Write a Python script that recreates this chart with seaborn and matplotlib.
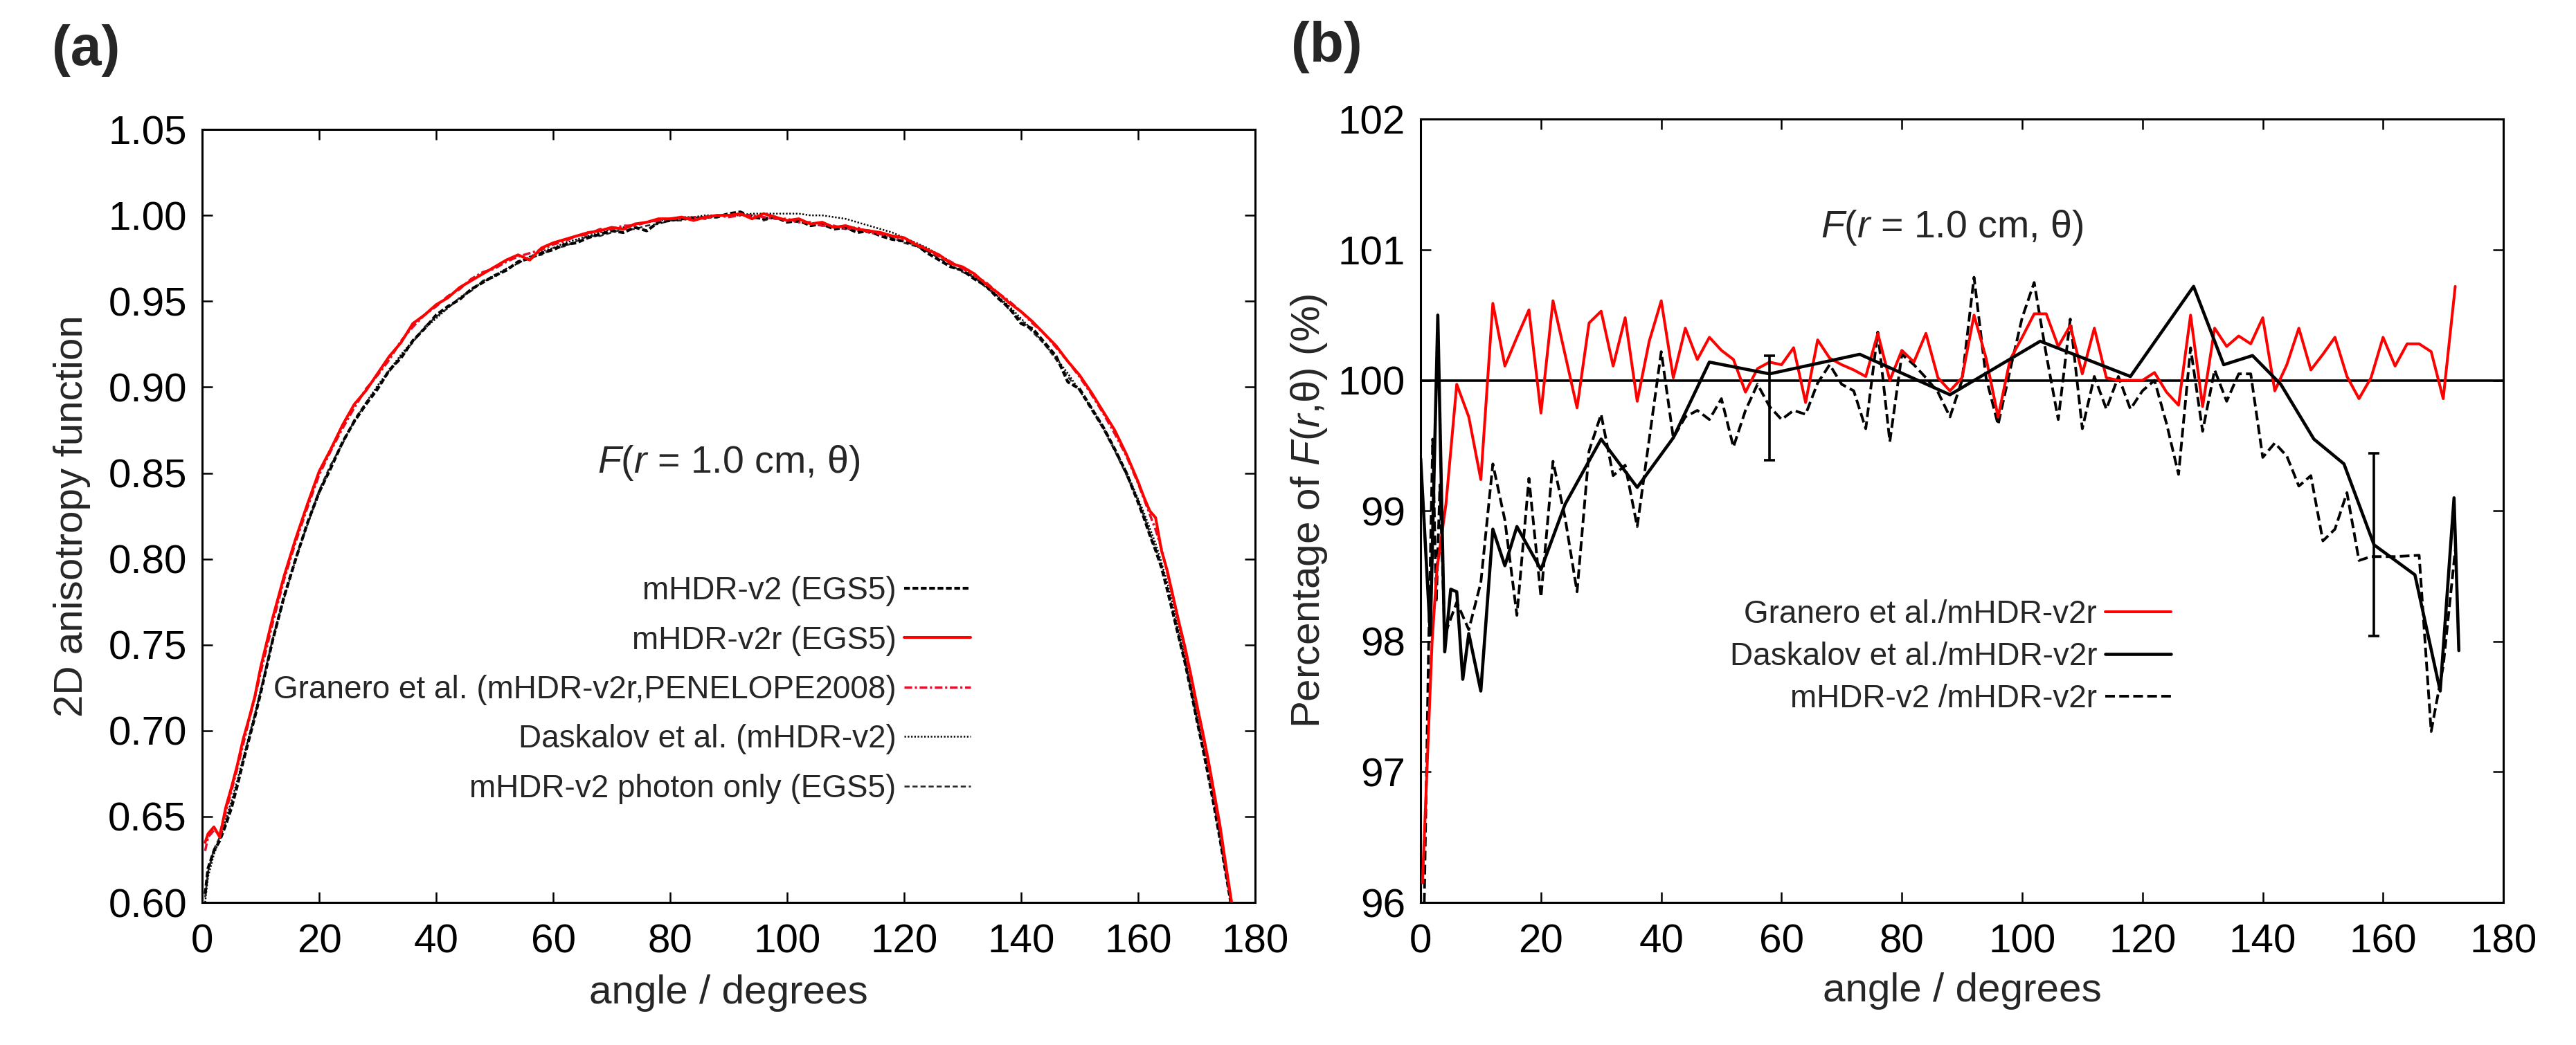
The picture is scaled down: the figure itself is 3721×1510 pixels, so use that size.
import seaborn as sns
import pandas as pd
import matplotlib.pyplot as plt
from matplotlib.ticker import FormatStrFormatter, MultipleLocator

sns.set_theme(style="ticks")
plt.rcParams["font.family"] = ["Liberation Sans", "DejaVu Sans"]
plt.rcParams["mathtext.fontset"] = "custom"
plt.rcParams["mathtext.rm"] = "Liberation Sans"
plt.rcParams["mathtext.it"] = "Liberation Sans:italic"

# ---- panel (a): 2D anisotropy function F(r = 1 cm, theta)
ANGLE_A = [0.5, 1, 2, 3, 4, 5, 6, 7, 8, 9, 10,
           12, 14, 16, 18, 20, 22, 24, 26, 28, 30,
           32, 34, 36, 38, 40, 42, 44, 46, 48, 50,
           52, 54, 56, 58, 60, 62, 64, 66, 68, 70,
           72, 74, 76, 78, 80, 82, 84, 86, 88, 90,
           92, 94, 96, 98, 100, 102, 104, 106, 108, 110,
           112, 114, 116, 118, 120, 122, 124, 126, 128, 130,
           132, 134, 136, 138, 140, 142, 144, 146, 148, 150,
           152, 154, 156, 158, 160,
           161, 162, 163, 164, 165, 166, 167, 168, 169, 170, 171, 172, 173, 174, 175, 176]

F_V2 = [0.605, 0.620, 0.630, 0.636, 0.645, 0.655, 0.668, 0.682, 0.695, 0.708, 0.722,
        0.752, 0.778, 0.800, 0.821, 0.839, 0.853, 0.868, 0.880, 0.890, 0.899,
        0.910, 0.917, 0.927, 0.934, 0.942, 0.947, 0.951, 0.957, 0.961, 0.965,
        0.968, 0.973, 0.975, 0.978, 0.980, 0.983, 0.984, 0.987, 0.989, 0.991,
        0.990, 0.993, 0.991, 0.996, 0.997, 0.998, 0.998, 0.999, 0.999, 1.001,
        1.002, 0.999, 0.998, 0.999, 0.996, 0.997, 0.994, 0.995, 0.992, 0.993,
        0.990, 0.991, 0.988, 0.986, 0.985, 0.983, 0.978, 0.974, 0.970, 0.968,
        0.963, 0.959, 0.952, 0.946, 0.937, 0.934, 0.926, 0.918, 0.903, 0.899,
        0.888, 0.877, 0.864, 0.850, 0.833,
        0.824, 0.814, 0.805, 0.795, 0.782, 0.768, 0.754, 0.740, 0.724, 0.707, 0.691, 0.674, 0.656, 0.637, 0.617, 0.597]

F_V2R = [0.635, 0.640, 0.644, 0.638, 0.655, 0.667, 0.680, 0.695, 0.707, 0.720, 0.737,
         0.765, 0.790, 0.812, 0.832, 0.851, 0.864, 0.878, 0.890, 0.898, 0.908,
         0.918, 0.926, 0.937, 0.942, 0.948, 0.952, 0.958, 0.962, 0.966, 0.970,
         0.974, 0.977, 0.974, 0.981, 0.984, 0.986, 0.988, 0.990, 0.991, 0.993,
         0.992, 0.995, 0.996, 0.998, 0.998, 0.999, 0.997, 0.999, 1.000, 1.000,
         1.001, 0.998, 1.001, 0.999, 0.997, 0.998, 0.995, 0.996, 0.993, 0.994,
         0.992, 0.991, 0.990, 0.988, 0.987, 0.983, 0.980, 0.977, 0.972, 0.970,
         0.966, 0.960, 0.955, 0.949, 0.944, 0.938, 0.931, 0.924, 0.915, 0.907,
         0.897, 0.886, 0.875, 0.861, 0.845,
         0.836, 0.828, 0.824, 0.805, 0.793, 0.778, 0.763, 0.749, 0.733, 0.716, 0.700, 0.683, 0.664, 0.645, 0.622, 0.600]

F_GRANERO = [0.630, 0.638, 0.642, 0.640, 0.652, 0.665, 0.678, 0.692, 0.706, 0.719, 0.734,
             0.762, 0.788, 0.810, 0.830, 0.849, 0.863, 0.876, 0.888, 0.899, 0.907,
             0.916, 0.927, 0.935, 0.942, 0.947, 0.953, 0.957, 0.963, 0.967, 0.969,
             0.973, 0.976, 0.978, 0.980, 0.983, 0.985, 0.988, 0.989, 0.992, 0.992,
             0.994, 0.994, 0.996, 0.997, 0.998, 0.998, 0.999, 0.998, 1.000, 0.999,
             1.000, 1.000, 0.999, 0.998, 0.998, 0.996, 0.996, 0.994, 0.994, 0.992,
             0.993, 0.990, 0.989, 0.988, 0.986, 0.984, 0.980, 0.976, 0.973, 0.969,
             0.965, 0.961, 0.955, 0.950, 0.944, 0.937, 0.931, 0.923, 0.915, 0.906,
             0.896, 0.885, 0.873, 0.860, 0.844,
             0.835, 0.826, 0.817, 0.806, 0.792, 0.777, 0.762, 0.747, 0.731, 0.715, 0.698, 0.681, 0.662, 0.643, 0.621, 0.599]

F_DASKALOV = [0.600, 0.615, 0.628, 0.637, 0.648, 0.659, 0.671, 0.684, 0.697, 0.710, 0.724,
              0.752, 0.777, 0.800, 0.820, 0.838, 0.854, 0.868, 0.880, 0.891, 0.901,
              0.910, 0.919, 0.927, 0.934, 0.940, 0.946, 0.952, 0.957, 0.961, 0.965,
              0.969, 0.972, 0.976, 0.979, 0.981, 0.984, 0.986, 0.988, 0.990, 0.992,
              0.993, 0.995, 0.996, 0.997, 0.998, 0.999, 0.999, 1.000, 1.000, 1.000,
              1.000, 1.001, 1.001, 1.001, 1.001, 1.001, 1.000, 1.000, 0.999, 0.998,
              0.996, 0.994, 0.992, 0.990, 0.987, 0.984, 0.981, 0.977, 0.973, 0.969,
              0.964, 0.959, 0.953, 0.947, 0.940, 0.933, 0.925, 0.917, 0.908, 0.898,
              0.888, 0.877, 0.864, 0.851, 0.835,
              0.827, 0.818, 0.809, 0.798, 0.786, 0.773, 0.759, 0.744, 0.728, 0.711, 0.694, 0.676, 0.658, 0.639, 0.619, 0.598]

F_PHOTON = [0.603, 0.618, 0.631, 0.638, 0.646, 0.657, 0.669, 0.683, 0.696, 0.709, 0.723,
            0.753, 0.779, 0.801, 0.820, 0.840, 0.855, 0.867, 0.881, 0.891, 0.900,
            0.909, 0.918, 0.926, 0.935, 0.941, 0.946, 0.952, 0.956, 0.962, 0.964,
            0.969, 0.972, 0.976, 0.977, 0.981, 0.982, 0.985, 0.988, 0.988, 0.990,
            0.992, 0.992, 0.994, 0.995, 0.997, 0.997, 0.999, 0.998, 1.000, 1.000,
            1.001, 1.000, 0.997, 0.999, 0.997, 0.996, 0.995, 0.994, 0.993, 0.992,
            0.991, 0.990, 0.989, 0.987, 0.984, 0.982, 0.979, 0.975, 0.971, 0.967,
            0.964, 0.958, 0.953, 0.945, 0.939, 0.932, 0.925, 0.916, 0.906, 0.898,
            0.887, 0.876, 0.863, 0.849, 0.834,
            0.825, 0.815, 0.806, 0.796, 0.783, 0.769, 0.755, 0.741, 0.725, 0.708, 0.692, 0.675, 0.657, 0.638, 0.618, 0.597]

# ---- panel (b): ratios in percent
ANGLE_B_GRANERO = [0.3, 1.9, 2.7, 4.2, 6, 8, 10, 12, 14, 16, 18, 20, 22, 24, 26, 28, 30, 32, 34, 36,
                   38, 40, 42, 44, 46, 48, 50, 52, 54, 56, 58, 60, 62, 64, 66, 68, 70, 72, 74, 76,
                   78, 80, 82, 84, 86, 88, 90, 92, 94, 96, 98, 100, 102, 104, 106, 108, 110, 112, 114, 116,
                   118, 120, 122, 124, 126, 128, 130, 132, 134, 136, 138, 140, 142, 144, 146, 148, 150, 152, 154, 156,
                   158, 160, 162, 164, 166, 168, 170, 172]
PCT_GRANERO = [96.15, 98.00, 98.55, 99.05, 99.97, 99.72, 99.24, 100.59, 100.11, 100.33, 100.54, 99.75, 100.61, 100.20, 99.79, 100.44, 100.53, 100.11, 100.48, 99.84,
               100.30, 100.61, 100.02, 100.40, 100.16, 100.33, 100.23, 100.16, 99.91, 100.09, 100.14, 100.12, 100.25, 99.83, 100.31, 100.17, 100.12, 100.08, 100.03, 100.36,
               100.00, 100.23, 100.14, 100.36, 100.02, 99.92, 100.02, 100.50, 100.17, 99.72, 100.16, 100.33, 100.51, 100.51, 100.26, 100.42, 100.05, 100.40, 100.02, 100.00,
               100.00, 100.00, 100.06, 99.91, 99.81, 100.50, 99.80, 100.40, 100.26, 100.34, 100.28, 100.48, 99.92, 100.12, 100.40, 100.08, 100.20, 100.33, 100.03, 99.86,
               100.02, 100.33, 100.11, 100.28, 100.28, 100.22, 99.86, 100.72]

ANGLE_B_DASKALOV = [0, 1.6, 2.85, 4, 5, 6, 7, 8, 10, 12, 14, 16, 20, 24, 30, 36, 42, 48, 58, 73,
                    88, 103, 118, 128.5, 133.5, 138.3, 143, 148.5, 153.5, 158.5, 165.3, 169.5, 171.8, 172.6]
PCT_DASKALOV = [99.40, 98.05, 100.50, 97.92, 98.40, 98.38, 97.71, 98.06, 97.62, 98.86, 98.58, 98.88, 98.55, 99.05, 99.55, 99.18, 99.56, 100.14, 100.05, 100.20,
                99.89, 100.30, 100.03, 100.72, 100.12, 100.19, 99.97, 99.55, 99.36, 98.74, 98.51, 97.62, 99.10, 97.93]

ANGLE_B_V2 = [0.6, 1.3, 2, 2.6, 3.2, 4, 6, 8, 10, 12, 14, 16, 18, 20, 22, 24, 26, 28, 30, 32,
              34, 36, 38, 40, 42, 44, 46, 48, 50, 52, 54, 56, 58, 60, 62, 64, 66, 68, 70, 72,
              74, 76, 78, 80, 82, 84, 86, 88, 90, 92, 94, 96, 98, 100, 102, 104, 106, 108, 110, 112,
              114, 116, 118, 120, 122, 124, 126, 128, 130, 132, 134, 136, 138, 140, 142, 144, 146, 148, 150, 152,
              154, 156, 158, 160, 162, 166, 168, 170, 172]
PCT_V2 = [96.00, 97.90, 99.55, 98.30, 99.20, 98.05, 98.30, 98.09, 98.45, 99.36, 98.93, 98.20, 99.25, 98.34, 99.38, 98.95, 98.38, 99.46, 99.74, 99.27,
          99.35, 98.88, 99.55, 100.22, 99.56, 99.72, 99.77, 99.70, 99.86, 99.49, 99.77, 99.97, 99.80, 99.70, 99.77, 99.74, 99.98, 100.12, 99.97, 99.92,
          99.63, 100.37, 99.53, 100.20, 100.12, 100.02, 99.91, 99.72, 100.00, 100.79, 100.02, 99.66, 100.08, 100.48, 100.75, 100.20, 99.70, 100.47, 99.63, 100.03,
          99.78, 100.03, 99.78, 99.92, 100.00, 99.67, 99.28, 100.25, 99.61, 100.08, 99.84, 100.05, 100.05, 99.41, 99.52, 99.42, 99.19, 99.27, 98.77, 98.86,
          99.14, 98.62, 98.65, 98.65, 98.65, 98.66, 97.31, 97.81, 98.70]

ERR_ANGLE = [58, 158.5]
ERR_CENTER = [99.79, 98.74]
ERR_HALF = [0.40, 0.70]

RED = "#ff0000"
GRANERO_RED = "#e0102e"

fig = plt.figure(figsize=(37.21, 15.10), dpi=100)
ax_a = fig.add_axes([0.0785, 0.1364, 0.4087, 0.7397])
ax_b = fig.add_axes([0.5515, 0.1364, 0.4203, 0.7494])


def style_axes(ax):
    for s in ax.spines.values():
        s.set_linewidth(2.2)
        s.set_color("black")
    ax.tick_params(axis="both", direction="in", length=11, width=1.8, top=True, right=True,
                   labelsize=42, colors="black")
    ax.tick_params(axis="x", pad=22)
    ax.tick_params(axis="y", pad=16)
    ax.grid(False)


# ---- (a)
sns.lineplot(x=ANGLE_A, y=F_V2, ax=ax_a, color="black", lw=3.0, linestyle=(0, (2.0, 0.9)),
             label="mHDR-v2 (EGS5)", errorbar=None, zorder=3)
sns.lineplot(x=ANGLE_A, y=F_V2R, ax=ax_a, color=RED, lw=2.9, linestyle="-",
             label="mHDR-v2r (EGS5)", errorbar=None, zorder=5)
sns.lineplot(x=ANGLE_A, y=F_GRANERO, ax=ax_a, color=GRANERO_RED, lw=2.5, linestyle=(0, (3.2, 1.1, 0.9, 1.1)),
             label="Granero et al. (mHDR-v2r,PENELOPE2008)", errorbar=None, zorder=4)
sns.lineplot(x=ANGLE_A, y=F_DASKALOV, ax=ax_a, color="black", lw=1.8, linestyle=(0, (0.9, 1.0)),
             label="Daskalov et al. (mHDR-v2)", errorbar=None, zorder=2)
sns.lineplot(x=ANGLE_A, y=F_PHOTON, ax=ax_a, color="#2a2a2a", lw=1.9, linestyle=(0, (2.8, 1.6)),
             label="mHDR-v2 photon only (EGS5)", errorbar=None, zorder=2)

ax_a.set_xlim(0, 180)
ax_a.set_ylim(0.60, 1.05)
ax_a.xaxis.set_major_locator(MultipleLocator(20))
ax_a.yaxis.set_major_locator(MultipleLocator(0.05))
ax_a.yaxis.set_major_formatter(FormatStrFormatter("%.2f"))
style_axes(ax_a)
ax_a.set_xlabel("angle / degrees", fontsize=42)
ax_a.set_ylabel("2D anisotropy function", fontsize=42)
ax_a.xaxis.set_label_coords(0.5, -0.093)
ax_a.yaxis.set_label_coords(-0.106, 0.5)
ax_a.text(90, 0.856, r"$F$($r$ = 1.0 cm, θ)", ha="center", va="center", fontsize=40)

h, l = ax_a.get_legend_handles_labels()
ax_a.legend(h, l, loc="upper right", bbox_to_anchor=(1402 / 3721, 1 - 832 / 1510),
            bbox_transform=fig.transFigure, frameon=False, markerfirst=False, fontsize=33,
            handlelength=2.1, handletextpad=0.24, labelspacing=0.6, borderpad=0, borderaxespad=0)

# ---- (b)
ax_b.axhline(100, color="black", lw=2.6, zorder=1)
sns.lineplot(x=ANGLE_B_GRANERO, y=PCT_GRANERO, ax=ax_b, color=RED, lw=2.9, linestyle="-",
             label="Granero et al./mHDR-v2r", errorbar=None, zorder=3)
sns.lineplot(x=ANGLE_B_DASKALOV, y=PCT_DASKALOV, ax=ax_b, color="black", lw=3.3, linestyle="-",
             label="Daskalov et al./mHDR-v2r", errorbar=None, zorder=4)
sns.lineplot(x=ANGLE_B_V2, y=PCT_V2, ax=ax_b, color="black", lw=2.8, linestyle=(0, (3.6, 1.6)),
             label="mHDR-v2 /mHDR-v2r", errorbar=None, zorder=2)
ax_b.errorbar(ERR_ANGLE, ERR_CENTER, yerr=ERR_HALF, fmt="none", ecolor="black",
              elinewidth=2.6, capsize=6, capthick=2.6, zorder=5)

ax_b.set_xlim(0, 180)
ax_b.set_ylim(96, 102)
ax_b.xaxis.set_major_locator(MultipleLocator(20))
ax_b.yaxis.set_major_locator(MultipleLocator(1))
style_axes(ax_b)
ax_b.set_xlabel("angle / degrees", fontsize=42)
ax_b.set_ylabel(r"Percentage of $F$($r$,θ) (%)", fontsize=42)
ax_b.xaxis.set_label_coords(0.5, -0.089)
ax_b.yaxis.set_label_coords(-0.0844, 0.5)
ax_b.text(88.3, 101.17, r"$F$($r$ = 1.0 cm, θ)", ha="center", va="center", fontsize=40)

h, l = ax_b.get_legend_handles_labels()
ax_b.legend(h, l, loc="upper right", bbox_to_anchor=(3136 / 3721, 1 - 866 / 1510),
            bbox_transform=fig.transFigure, frameon=False, markerfirst=False, fontsize=33,
            handlelength=2.07, handletextpad=0.26, labelspacing=0.375, borderpad=0, borderaxespad=0)

fig.text(124 / 3721, 1 - 73 / 1510, "(a)", ha="center", va="center", fontsize=58, fontweight="bold")
fig.text(1916 / 3721, 1 - 68 / 1510, "(b)", ha="center", va="center", fontsize=58, fontweight="bold")

fig.savefig("out.png", dpi=100, facecolor="white")
